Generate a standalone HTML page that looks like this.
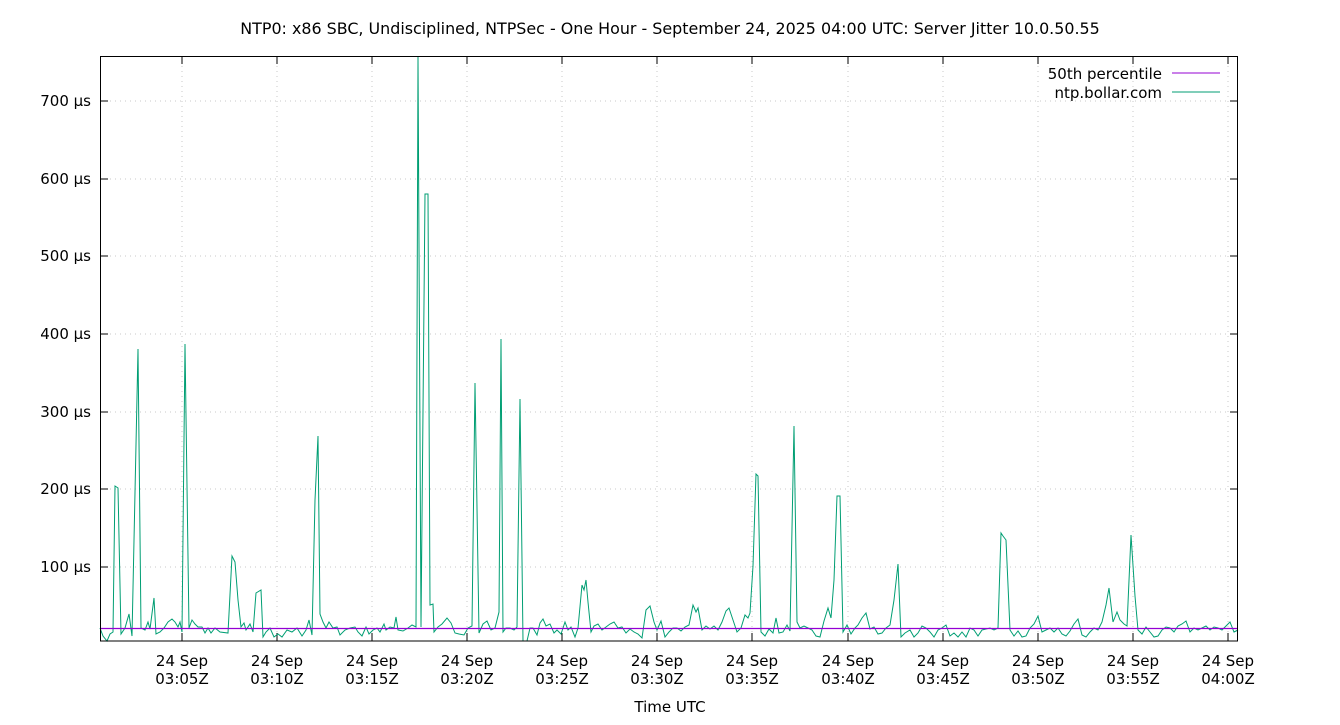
<!DOCTYPE html>
<html><head><meta charset="utf-8"><style>
body{margin:0;background:#fff}
text{font-family:"DejaVu Sans","Liberation Sans",sans-serif;font-size:15px;fill:#000}
</style></head><body>
<svg width="1340" height="720" xmlns="http://www.w3.org/2000/svg">
<rect width="1340" height="720" fill="#fff"/>
<text x="670" y="34" text-anchor="middle" style="font-size:15.9px">NTP0: x86 SBC, Undisciplined, NTPSec - One Hour - September 24, 2025 04:00 UTC: Server Jitter 10.0.50.55</text>
<g stroke="#c8c8c8" stroke-dasharray="1,4" stroke-width="1">
<line x1="100" x2="1238" y1="101" y2="101"/><line x1="100" x2="1238" y1="179" y2="179"/><line x1="100" x2="1238" y1="256" y2="256"/><line x1="100" x2="1238" y1="334" y2="334"/><line x1="100" x2="1238" y1="412" y2="412"/><line x1="100" x2="1238" y1="489" y2="489"/><line x1="100" x2="1238" y1="567" y2="567"/>
<line y1="56" y2="641" x1="182" x2="182"/><line y1="56" y2="641" x1="277" x2="277"/><line y1="56" y2="641" x1="372" x2="372"/><line y1="56" y2="641" x1="467" x2="467"/><line y1="56" y2="641" x1="562" x2="562"/><line y1="56" y2="641" x1="657" x2="657"/><line y1="56" y2="641" x1="752" x2="752"/><line y1="56" y2="641" x1="848" x2="848"/><line y1="56" y2="641" x1="943" x2="943"/><line y1="56" y2="641" x1="1038" x2="1038"/><line y1="56" y2="641" x1="1133" x2="1133"/><line y1="56" y2="641" x1="1228" x2="1228"/>
</g>
<g stroke="#000" stroke-width="1">
<line x1="100" x2="108" y1="101" y2="101"/><line x1="100" x2="108" y1="179" y2="179"/><line x1="100" x2="108" y1="256" y2="256"/><line x1="100" x2="108" y1="334" y2="334"/><line x1="100" x2="108" y1="412" y2="412"/><line x1="100" x2="108" y1="489" y2="489"/><line x1="100" x2="108" y1="567" y2="567"/>
<line x1="1238" x2="1230" y1="101" y2="101"/><line x1="1238" x2="1230" y1="179" y2="179"/><line x1="1238" x2="1230" y1="256" y2="256"/><line x1="1238" x2="1230" y1="334" y2="334"/><line x1="1238" x2="1230" y1="412" y2="412"/><line x1="1238" x2="1230" y1="489" y2="489"/><line x1="1238" x2="1230" y1="567" y2="567"/>
<path d="M182 641v-8M277 641v-8M372 641v-8M467 641v-8M562 641v-8M657 641v-8M752 641v-8M848 641v-8M943 641v-8M1038 641v-8M1133 641v-8M1228 641v-8M182 56v8M277 56v8M372 56v8M467 56v8M562 56v8M657 56v8M752 56v8M848 56v8M943 56v8M1038 56v8M1133 56v8M1228 56v8"/>
</g>
<g text-anchor="end">
<text x="91" y="106">700 µs</text><text x="91" y="184">600 µs</text><text x="91" y="261">500 µs</text><text x="91" y="339">400 µs</text><text x="91" y="417">300 µs</text><text x="91" y="494">200 µs</text><text x="91" y="572">100 µs</text>
</g>
<g text-anchor="middle">
<text x="182" y="666">24 Sep</text><text x="182" y="684">03:05Z</text>
<text x="277" y="666">24 Sep</text><text x="277" y="684">03:10Z</text>
<text x="372" y="666">24 Sep</text><text x="372" y="684">03:15Z</text>
<text x="467" y="666">24 Sep</text><text x="467" y="684">03:20Z</text>
<text x="562" y="666">24 Sep</text><text x="562" y="684">03:25Z</text>
<text x="657" y="666">24 Sep</text><text x="657" y="684">03:30Z</text>
<text x="752" y="666">24 Sep</text><text x="752" y="684">03:35Z</text>
<text x="848" y="666">24 Sep</text><text x="848" y="684">03:40Z</text>
<text x="943" y="666">24 Sep</text><text x="943" y="684">03:45Z</text>
<text x="1038" y="666">24 Sep</text><text x="1038" y="684">03:50Z</text>
<text x="1133" y="666">24 Sep</text><text x="1133" y="684">03:55Z</text>
<text x="1228" y="666">24 Sep</text><text x="1228" y="684">04:00Z</text>
<text x="670" y="712">Time UTC</text>
</g>
<text x="1162" y="79" text-anchor="end">50th percentile</text>
<text x="1162" y="98" text-anchor="end">ntp.bollar.com</text>
<line x1="1172" x2="1220" y1="73" y2="73" stroke="#9400d3"/>
<line x1="1172" x2="1220" y1="92" y2="92" stroke="#009e73"/>
<polyline fill="none" stroke="#009e73" stroke-width="1" points="100,628 103,636 107,641 110,634 113,632 115,486 118,488 121,634 125,628 129,614 132,636 138,349 141,628 145,630 148,622 150,629 154,598 156,634 160,632 164,628 168,622 172,619 175,622 178,627 180,622 182,632 185,344 189,628 192,620 195,624 198,627 202,627 205,633 208,628 211,633 215,628 220,632 228,633 232,556 235,562 238,600 241,627 244,623 246,630 250,624 253,632 256,593 261,590 263,637 266,632 270,628 274,637 278,634 282,637 287,630 292,632 297,628 302,636 306,630 309,620 312,635 315,500 318,436 320,614 323,622 326,628 329,622 333,628 337,627 340,635 345,630 350,628 355,627 358,632 362,636 366,627 369,634 373,630 377,628 380,632 384,624 386,630 390,627 394,628 396,617 398,630 403,631 408,628 412,625 416,627 418,56 421,627 425,194 428,194 430,605 433,604 434,632 438,627 442,624 447,618 451,623 455,633 459,634 464,635 468,628 472,626 475,383 479,633 483,624 487,621 491,630 495,628 499,612 501,339 503,632 506,628 510,628 514,630 517,627 520,399 523,641 527,641 530,628 533,628 537,635 540,623 543,619 546,626 550,624 554,633 557,630 561,634 565,622 568,630 571,627 575,637 578,628 582,585 584,590 586,580 588,602 591,632 594,626 598,624 602,630 606,627 610,624 614,622 618,628 622,627 626,633 630,629 634,632 638,634 642,638 646,610 650,606 654,622 657,630 661,621 665,637 669,632 673,628 677,628 681,631 685,627 689,625 693,605 696,612 698,608 702,630 706,626 710,629 714,626 718,630 722,622 726,611 729,608 733,620 737,632 741,628 745,615 748,618 750,613 753,566 756,474 758,476 761,632 765,636 769,629 773,633 776,618 779,633 783,632 787,625 790,631 794,426 797,622 800,628 804,626 808,628 812,630 816,636 820,637 824,621 828,608 831,618 834,580 837,496 840,496 843,632 847,625 851,634 855,628 858,625 862,618 866,613 870,629 874,627 878,634 882,633 886,628 890,625 894,600 898,564 901,637 905,633 910,630 914,637 918,633 922,626 926,628 930,632 934,637 938,630 942,628 946,625 950,636 954,633 958,637 962,632 966,637 970,628 974,630 978,636 982,630 986,629 990,628 994,630 998,628 1001,533 1003,536 1006,540 1010,630 1014,636 1018,631 1022,637 1026,636 1030,628 1034,624 1038,616 1042,632 1046,630 1050,628 1054,632 1058,628 1062,634 1066,636 1070,631 1074,624 1078,619 1082,635 1086,637 1090,632 1094,628 1098,630 1102,622 1106,605 1109,588 1113,622 1117,612 1120,620 1124,624 1127,626 1131,535 1135,596 1138,630 1142,634 1146,627 1150,632 1154,637 1158,636 1162,630 1166,627 1170,628 1174,632 1178,626 1182,624 1186,621 1190,632 1194,628 1198,630 1202,628 1206,626 1210,630 1214,627 1218,628 1222,630 1226,626 1230,622 1234,632 1238,630"/>
<line x1="100" x2="1238" y1="628.5" y2="628.5" stroke="#9400d3" stroke-width="1.2"/>
<rect x="100.5" y="56.5" width="1137" height="584.5" fill="none" stroke="#000" stroke-width="1"/>
</svg>
</body></html>
